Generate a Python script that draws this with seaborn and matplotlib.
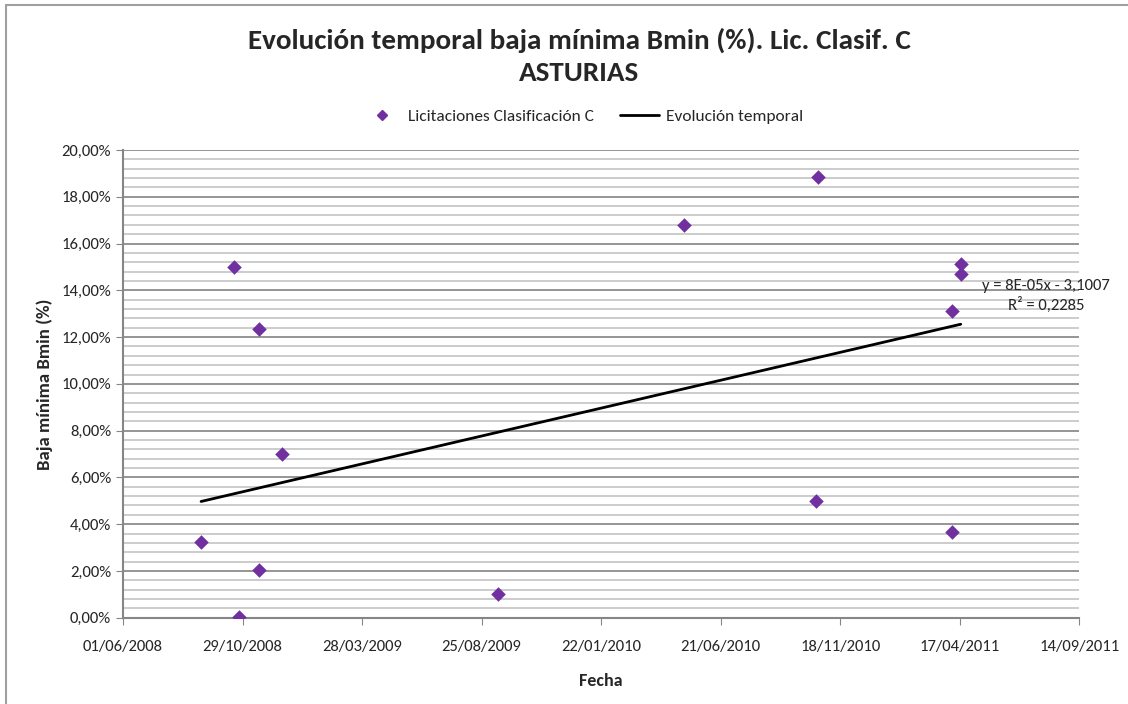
import pandas as pd
import seaborn as sns
import matplotlib.pyplot as plt
import matplotlib.dates as mdates
from matplotlib.ticker import FuncFormatter, MultipleLocator
from matplotlib.lines import Line2D

# data
fechas = ['2008-09-07', '2008-10-18', '2008-10-24', '2008-11-19', '2008-11-19',
          '2008-12-17', '2009-09-15', '2010-05-06', '2010-10-19', '2010-10-21',
          '2011-04-07', '2011-04-07', '2011-04-18', '2011-04-18']
bajas = [3.25, 15.00, 0.05, 12.35, 2.02,
         7.00, 1.01, 16.79, 4.99, 18.84,
         13.13, 3.66, 15.12, 14.71]
# "Evolución temporal" series (straight line, two end points)
evol_fechas = ['2008-09-07', '2011-04-18']
evol_valores = [4.97, 12.55]
tick_fechas = ['2008-06-01', '2008-10-29', '2009-03-28', '2009-08-25', '2010-01-22',
               '2010-06-21', '2010-11-18', '2011-04-17', '2011-09-14']

df = pd.DataFrame({'Fecha': pd.to_datetime(fechas), 'Bmin': bajas})
df_evol = pd.DataFrame({'Fecha': pd.to_datetime(evol_fechas), 'Bmin': evol_valores})
ticks = pd.to_datetime(tick_fechas)

sns.set_style('white')
plt.rcParams['font.family'] = ['Carlito', 'Lato', 'DejaVu Sans']

fig = plt.figure(figsize=(11.28, 7.04), dpi=100)
ax = fig.add_axes([0.109, 0.1226, 0.848, 0.6643])

purple = '#7030A0'
sns.scatterplot(data=df, x='Fecha', y='Bmin', marker='D', s=55, color=purple,
                edgecolor=purple, linewidth=0, ax=ax, zorder=3)
sns.lineplot(data=df_evol, x='Fecha', y='Bmin', color='black', lw=2, ax=ax, zorder=2)

ax.set_xlim(ticks[0], ticks[-1])
ax.set_ylim(0, 20)
ax.set_xticks(ticks)
ax.xaxis.set_major_formatter(mdates.DateFormatter('%d/%m/%Y'))
ax.yaxis.set_major_locator(MultipleLocator(2))
ax.yaxis.set_minor_locator(MultipleLocator(0.4))
ax.yaxis.set_major_formatter(FuncFormatter(lambda v, p: f'{v:.2f}%'.replace('.', ',')))

ax.grid(which='major', axis='y', color='#8c8c8c', lw=1.3)
ax.grid(which='minor', axis='y', color='#c8c8c8', lw=1.3)
ax.grid(False, axis='x')
ax.set_axisbelow(True)
for s in ['top', 'right']:
    ax.spines[s].set_visible(False)
for s in ['left', 'bottom']:
    ax.spines[s].set_color('#868686')
    ax.spines[s].set_linewidth(1.5)
ax.tick_params(axis='both', which='major', direction='out', length=5, color='#868686',
               labelsize=12, left=True, bottom=True)
ax.tick_params(axis='x', pad=11)
ax.tick_params(axis='y', which='minor', left=False)

ax.set_xlabel('Fecha', fontsize=13, fontweight='bold', labelpad=14)
ax.set_ylabel('Baja mínima Bmin (%)', fontsize=13.5, fontweight='bold', labelpad=6)

ax.text(1046 / 1128, 1 - 286 / 704, 'y = 8E-05x - 3,1007', transform=fig.transFigure,
        ha='center', va='center', fontsize=12)
ax.text(1046 / 1128, 1 - 305 / 704, 'R² = 0,2285', transform=fig.transFigure,
        ha='center', va='center', fontsize=12)

fig.text(579 / 1128, 1 - 40 / 704, 'Evolución temporal baja mínima Bmin (%). Lic. Clasif. C',
         ha='center', va='center', fontsize=21, fontweight='bold')
fig.text(579 / 1128, 1 - 73 / 704, 'ASTURIAS', ha='center', va='center',
         fontsize=21, fontweight='bold')

handles = [Line2D([], [], marker='D', color=purple, ls='none', markersize=5.5),
           Line2D([], [], color='black', lw=2)]
fig.legend(handles, ['Licitaciones Clasificación C', 'Evolución temporal'],
           loc='center', bbox_to_anchor=(583 / 1128, 1 - 116 / 704), ncol=2,
           frameon=False, fontsize=12.5, handlelength=2.2, columnspacing=1.5,
           handletextpad=0.4)

# outer chart border (top and left visible)
fig.add_artist(Line2D([6 / 1128, 6 / 1128], [0, 1 - 5 / 704], color='#a0a0a0', lw=1.5,
                      transform=fig.transFigure))
fig.add_artist(Line2D([6 / 1128, 1], [1 - 5 / 704, 1 - 5 / 704], color='#a0a0a0', lw=1.5,
                      transform=fig.transFigure))

fig.savefig('out.png', dpi=100)
plt.close(fig)
